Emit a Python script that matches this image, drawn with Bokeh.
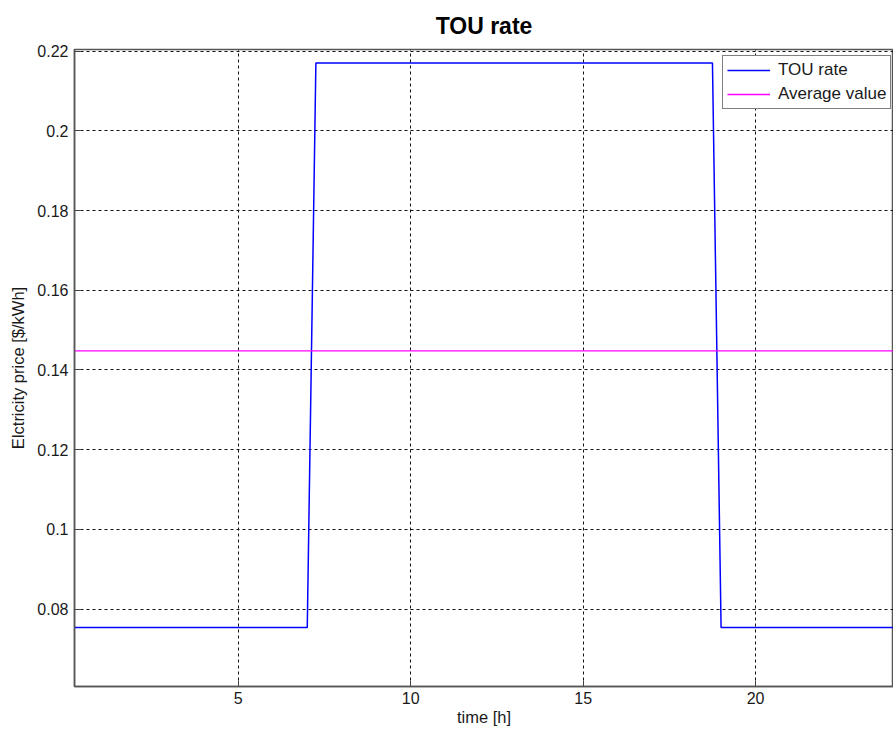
from bokeh.plotting import figure
from bokeh.models import Legend, LegendItem, FixedTicker, Range1d
from bokeh.embed import file_html
from bokeh.resources import INLINE

# Data (quarter-hour TOU profile breakpoints)
tou_hours = [0.25, 7.0, 7.25, 18.75, 19.0, 24.0]
tou_rate = [0.0754, 0.0754, 0.2170, 0.2170, 0.0754, 0.0754]
avg_hours = [0.25, 24.0]
avg_rate = [0.1448, 0.1448]

x_ticks = [5, 10, 15, 20]
y_ticks = [0.08, 0.10, 0.12, 0.14, 0.16, 0.18, 0.20, 0.22]
y_tick_labels = {0.08: "0.08", 0.10: "0.1", 0.12: "0.12", 0.14: "0.14",
                 0.16: "0.16", 0.18: "0.18", 0.20: "0.2", 0.22: "0.22"}

FONT = "Liberation Sans"

p = figure(width=893, height=729, output_backend="svg", toolbar_location=None,
           x_range=Range1d(0.25, 24.0), y_range=Range1d(0.0606, 0.2204),
           min_border_left=74, min_border_right=0, min_border_top=49,
           min_border_bottom=43, title="TOU rate")

p.title.text_font = FONT
p.title.text_font_size = "23px"
p.title.text_font_style = "bold"
p.title.align = "center"
p.title.text_color = "black"
p.title.standoff = 21

p.outline_line_color = "#555555"
p.outline_line_width = 1.5
p.background_fill_color = "white"
p.border_fill_color = "white"

# grid
p.xgrid.ticker = FixedTicker(ticks=x_ticks)
p.ygrid.ticker = FixedTicker(ticks=y_ticks)
for g in (p.xgrid, p.ygrid):
    g.grid_line_color = "#111111"
    g.grid_line_dash = "3 3"
    g.grid_line_width = 1

# axes
xa = p.xaxis[0]
ya = p.yaxis[0]
xa.ticker = FixedTicker(ticks=x_ticks)
ya.ticker = FixedTicker(ticks=y_ticks)
ya.major_label_overrides = y_tick_labels
xa.axis_label = "time [h]"
ya.axis_label = "Elctricity price [$/kWh]"
for a in (xa, ya):
    a.axis_line_color = "#555555"
    a.axis_line_width = 1.5
    a.major_tick_line_color = "#444444"
    a.major_tick_in = 6
    a.major_tick_out = 0
    a.minor_tick_line_color = None
    a.major_label_text_font = FONT
    a.major_label_text_font_size = "16px"
    a.major_label_text_color = "#1a1a1a"
    a.axis_label_text_font = FONT
    a.axis_label_text_font_size = "16.5px"
    a.axis_label_text_font_style = "normal"
    a.axis_label_text_color = "#1a1a1a"
xa.major_label_standoff = 5
xa.axis_label_standoff = 1
ya.major_label_standoff = 6
ya.axis_label_standoff = 7

r1 = p.line(tou_hours, tou_rate, line_color="#0000ff", line_width=1.5)
r2 = p.line(avg_hours, avg_rate, line_color="#ff00ff", line_width=1.3)

legend = Legend(items=[LegendItem(label="TOU rate", renderers=[r1]),
                       LegendItem(label="Average value", renderers=[r2])],
                location=(648, 577))
legend.label_text_font = FONT
legend.label_text_font_size = "17px"
legend.label_text_color = "#1a1a1a"
legend.glyph_width = 43
legend.glyph_height = 18
legend.label_height = 18
legend.label_standoff = 8
legend.padding = 4
legend.spacing = 4
legend.margin = 0
legend.border_line_color = "black"
legend.border_line_width = 1
legend.background_fill_color = "white"
legend.background_fill_alpha = 1
p.add_layout(legend, "center")

open("out.html", "w").write(file_html(p, INLINE))
